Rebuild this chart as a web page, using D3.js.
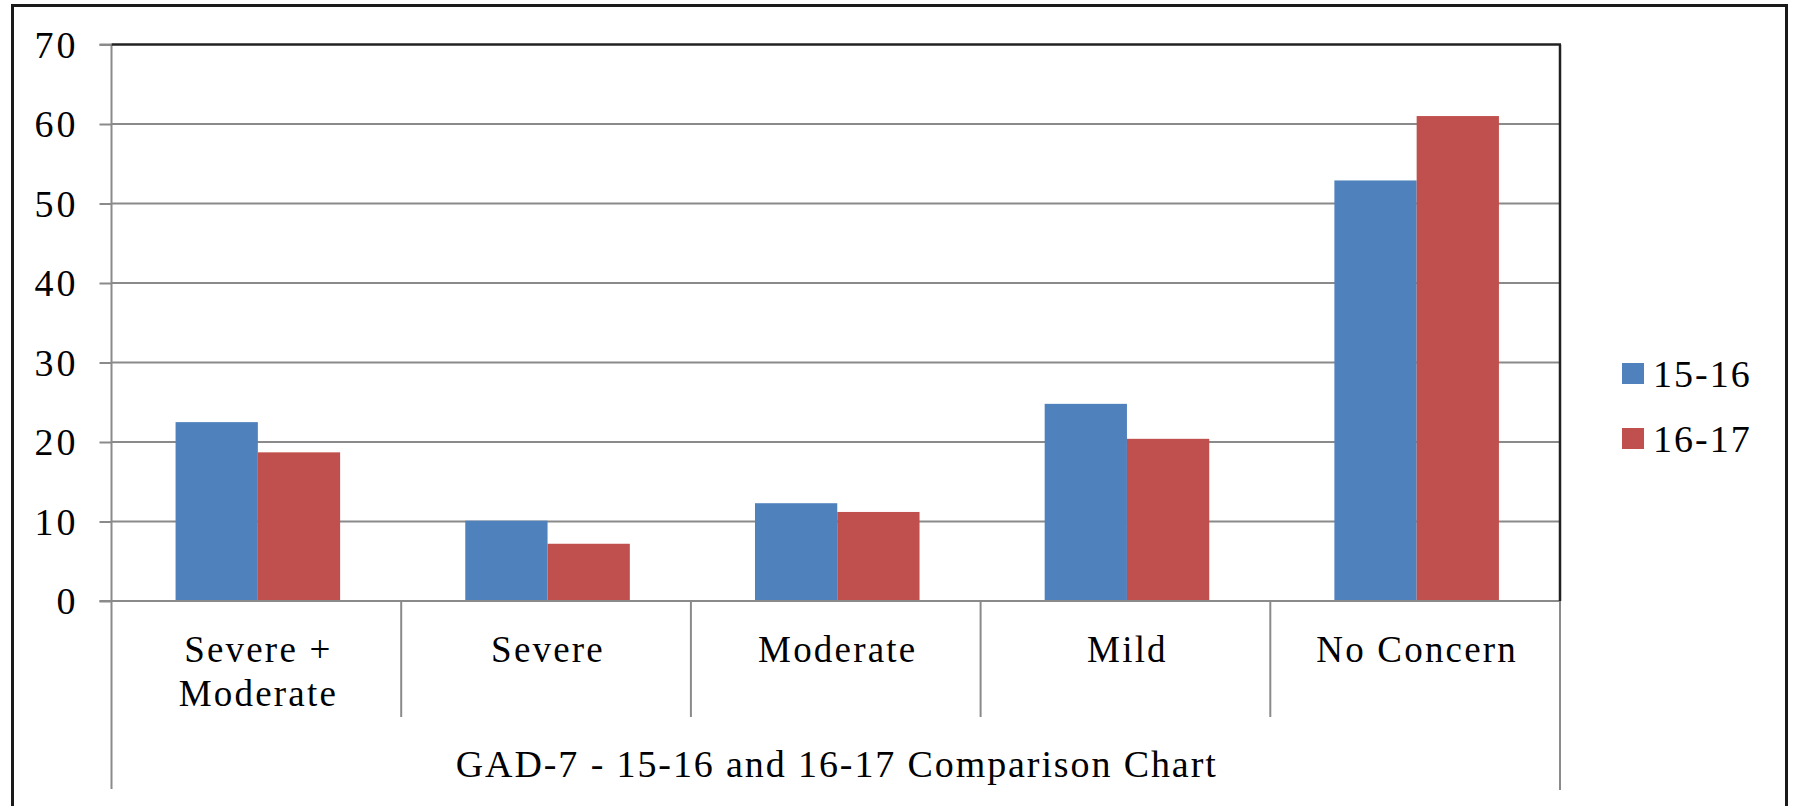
<!DOCTYPE html>
<html>
<head>
<meta charset="utf-8">
<script src="https://cdn.jsdelivr.net/npm/d3@7"></script>
<style>
  html, body { margin: 0; padding: 0; background: #ffffff; }
  svg { display: block; }
  text { font-family: "Liberation Serif", "Times New Roman", serif; fill: #000; }
</style>
</head>
<body>
<svg id="chart" width="1797" height="806"></svg>
<script>
const categories = ["Severe + Moderate", "Severe", "Moderate", "Mild", "No Concern"];
const categoryLines = [["Severe +", "Moderate"], ["Severe"], ["Moderate"], ["Mild"], ["No Concern"]];
const seriesNames = ["15-16", "16-17"];
const values1516 = [22.5, 10.1, 12.3, 24.8, 52.9];
const values1617 = [18.7, 7.2, 11.2, 20.4, 61.0];
const yTicks = [0, 10, 20, 30, 40, 50, 60, 70];
const colors = ["#4F81BD", "#C0504D"];
const axisTitle = "GAD-7 - 15-16 and 16-17 Comparison Chart";

(function () {
const svg = d3.select("#chart");
const pLeft = 111.5, pRight = 1560, pTop = 44.5, pBottom = 601;

const y = d3.scaleLinear().domain([0, 70]).range([pBottom, pTop]);
const x = d3.scaleBand().domain(categories).range([pLeft, pRight]).paddingInner(0.432).paddingOuter(0.216);
const xi = d3.scaleBand().domain(seriesNames).range([0, x.bandwidth()]);
const step = x.step();
const boundaries = d3.range(categories.length + 1).map(i => pLeft + i * step);

// outer chart border
svg.append("rect").attr("x", 12.5).attr("y", 5.5).attr("width", 1774).attr("height", 820)
  .attr("fill", "none").attr("stroke", "#1a1a1a").attr("stroke-width", 3);

// gridlines
svg.append("g").selectAll("line").data(yTicks.filter(t => t > 0 && t < 70)).join("line")
  .attr("x1", pLeft).attr("x2", pRight).attr("y1", d => y(d)).attr("y2", d => y(d))
  .attr("stroke", "#8a8a8a").attr("stroke-width", 2);

// y axis with ticks and labels
const yAxis = svg.append("g").attr("transform", `translate(${pLeft},0)`)
  .call(d3.axisLeft(y).tickValues(yTicks).tickSize(12).tickPadding(21));
yAxis.select(".domain").remove();
yAxis.selectAll(".tick line").attr("stroke", "#8a8a8a").attr("stroke-width", 2);
yAxis.selectAll(".tick text").attr("font-size", 38).attr("letter-spacing", 3)
  .attr("font-family", "Liberation Serif").attr("dy", "0.34em").attr("fill", "#000");

// y axis line extended below
svg.append("line").attr("x1", pLeft).attr("x2", pLeft).attr("y1", pTop).attr("y2", 789)
  .attr("stroke", "#8a8a8a").attr("stroke-width", 2);
// right continuation below plot
svg.append("line").attr("x1", pRight).attr("x2", pRight).attr("y1", pBottom).attr("y2", 790)
  .attr("stroke", "#8a8a8a").attr("stroke-width", 2);

// bars
const groups = svg.append("g").selectAll("g").data(categories).join("g")
  .attr("transform", d => `translate(${x(d) + 1.5},0)`);
[values1516, values1617].forEach((vals, si) => {
  groups.append("rect")
    .attr("x", xi(seriesNames[si]))
    .attr("width", xi.bandwidth())
    .attr("y", (d, i) => y(vals[i]))
    .attr("height", (d, i) => y(0) - y(vals[i]))
    .attr("fill", colors[si]);
});

// x axis baseline
svg.append("line").attr("x1", pLeft - 12).attr("x2", pRight).attr("y1", pBottom).attr("y2", pBottom)
  .attr("stroke", "#8a8a8a").attr("stroke-width", 2);
// category separators
svg.append("g").selectAll("line").data(boundaries.slice(1, -1)).join("line")
  .attr("x1", d => d).attr("x2", d => d).attr("y1", pBottom).attr("y2", 717)
  .attr("stroke", "#8a8a8a").attr("stroke-width", 2);

// plot top & right border (dark)
svg.append("line").attr("x1", pLeft).attr("x2", pRight + 1).attr("y1", pTop).attr("y2", pTop)
  .attr("stroke", "#222").attr("stroke-width", 2.5);
svg.append("line").attr("x1", pLeft - 12).attr("x2", pLeft).attr("y1", pTop).attr("y2", pTop)
  .attr("stroke", "#8a8a8a").attr("stroke-width", 2);
svg.append("line").attr("x1", pRight).attr("x2", pRight).attr("y1", pTop).attr("y2", pBottom)
  .attr("stroke", "#222").attr("stroke-width", 2.5);

// category labels
const labels = svg.append("g").selectAll("text").data(categories).join("text")
  .attr("x", d => x(d) + x.bandwidth() / 2 + 2)
  .attr("y", 662)
  .attr("text-anchor", "middle")
  .attr("font-size", 37)
  .attr("letter-spacing", 2.2);
labels.each(function(d, i) {
  const t = d3.select(this);
  categoryLines[i].forEach((line, li) => {
    t.append("tspan").attr("x", x(d) + x.bandwidth() / 2 + 2).attr("dy", li === 0 ? 0 : 44).text(line);
  });
});

// axis title
svg.append("text").attr("x", (pLeft + pRight) / 2).attr("y", 777)
  .attr("text-anchor", "middle").attr("font-size", 38)
  .attr("textLength", 760).attr("lengthAdjust", "spacing")
  .text(axisTitle);

// legend
const legend = svg.append("g").selectAll("g").data(seriesNames).join("g")
  .attr("transform", (d, i) => `translate(1622,${363 + i * 65})`);
legend.append("rect").attr("width", 22).attr("height", 21).attr("fill", (d, i) => colors[i]);
legend.append("text").attr("x", 31).attr("y", 24).attr("font-size", 38).attr("letter-spacing", 2)
  .text(d => d);
})();
</script>
</body>
</html>
